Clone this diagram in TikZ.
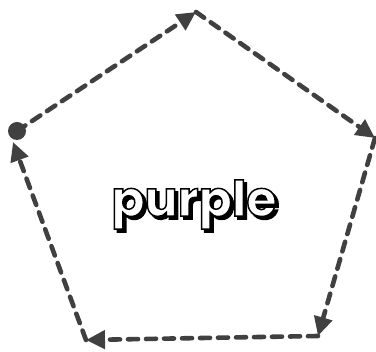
\documentclass[tikz,border=0pt]{standalone}
\usepackage{fontspec}
\newfontfamily\labelfont{Poppins Bold}[FakeBold=3]
\usetikzlibrary{arrows.meta}
\definecolor{edgegray}{HTML}{404040}
\tikzset{
  edge/.style={draw=edgegray, line width=4.6pt, dash pattern=on 10pt off 8pt, line cap=round,
    -{Triangle[length=19pt,width=18pt]}},
}
\newcommand{\shadowtext}[1]{\makebox[0pt][l]{\hspace{3pt}\raisebox{-3pt}{\special{pdf:bcolor [0] [0]}#1\special{pdf:ecolor}}}\special{pdf:bcolor [1] [0]}#1\special{pdf:ecolor}}
\begin{document}
\begin{tikzpicture}[x=1pt,y=-1pt]
\useasboundingbox (0,0) rectangle (376,352);
\coordinate (L) at (17,131);
\coordinate (T) at (196,12);
\coordinate (R) at (375,138);
\coordinate (BR) at (318,336);
\coordinate (BL) at (86,340);
\coordinate (Lb) at (13,142);
\fill[edgegray] (L) circle (9);
\draw[edge] (L) -- (T);
\draw[edge] (T) -- (R);
\draw[edge] (R) -- (BR);
\draw[edge] (BR) -- (BL);
\draw[edge] (BL) -- (Lb);
\node (label) at (194,206) {\fontsize{49}{49}\labelfont\shadowtext{purple}};
\end{tikzpicture}
\end{document}
